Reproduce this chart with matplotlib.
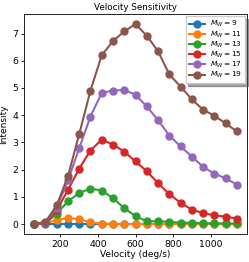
import matplotlib
matplotlib.use("Agg")
import matplotlib.pyplot as plt

velocity = [60, 120, 180, 240, 300, 360, 420, 480, 540, 600, 660, 720, 780, 840, 900, 960, 1020, 1080, 1140]
mw_values = [9, 11, 13, 15, 17, 19]
intensity_9 = [0]*19
intensity_11 = [0, 0.02, 0.15, 0.22, 0.18, 0.06, 0.01, 0, 0, 0, 0, 0, 0, 0, 0, 0, 0, 0, 0]
intensity_13 = [0, 0.02, 0.38, 0.83, 1.14, 1.3, 1.23, 0.95, 0.58, 0.29, 0.1, 0.1, 0.08, 0.05, 0.04, 0.03, 0.02, 0.02, 0.02]
intensity_15 = [0, 0.03, 0.5, 1.25, 2.03, 2.7, 3.1, 2.92, 2.66, 2.3, 1.94, 1.5, 1.1, 0.78, 0.53, 0.4, 0.32, 0.27, 0.2]
intensity_17 = [0, 0.05, 0.6, 1.6, 2.78, 3.95, 4.82, 4.9, 4.93, 4.75, 4.32, 3.82, 3.25, 2.85, 2.48, 2.1, 1.85, 1.68, 1.45]
intensity_19 = [0, 0.08, 0.68, 1.75, 3.3, 4.9, 6.2, 6.72, 7.08, 7.35, 6.92, 6.35, 5.5, 5.05, 4.58, 4.2, 3.98, 3.7, 3.4]
series = [intensity_9, intensity_11, intensity_13, intensity_15, intensity_17, intensity_19]

fig = plt.figure(figsize=(2.49, 2.62), dpi=100)
ax = fig.add_axes([24/249, 1-234/262, 223/249, 220/262])
for mw, vals in zip(mw_values, series):
    ax.plot(velocity, vals, marker='o', markersize=5, linewidth=1.5, label=r'$M_W = %d$' % mw)
ax.set_title('Velocity Sensitivity', fontsize=6.3, pad=3)
ax.set_xlabel('Velocity (deg/s)', fontsize=6.5, labelpad=1)
ax.set_ylabel('Intensity', fontsize=6.5)
ax.yaxis.set_label_coords(-16/223, 0.5)
ax.set_xticks([200, 400, 600, 800, 1000])
ax.tick_params(labelsize=6.7, length=2.5, pad=1.5, width=0.6)
for s in ax.spines.values():
    s.set_linewidth(0.6)
ax.legend(loc='upper right', fontsize=5.4, shadow=True, fancybox=False, handlelength=2.2,
          labelspacing=0.0, borderpad=0.4, borderaxespad=0.3, handletextpad=0.6)
fig.savefig('out.png', dpi=100)
